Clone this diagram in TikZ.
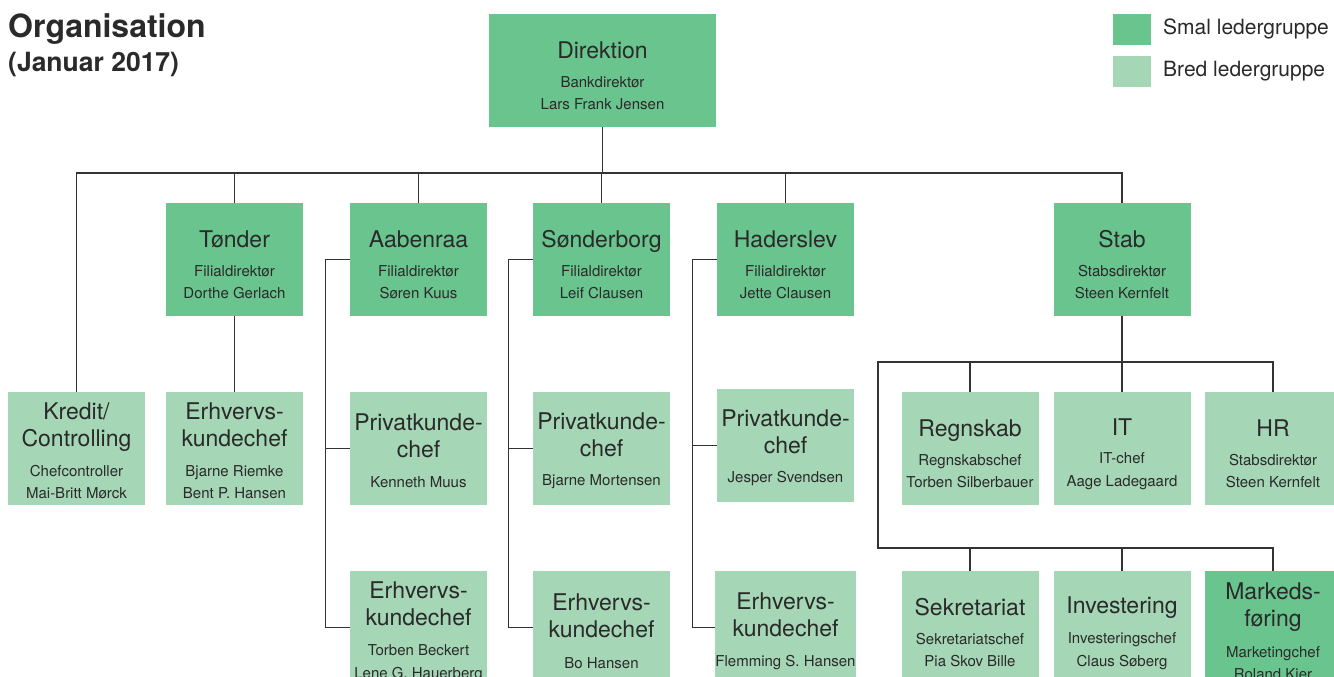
\documentclass[tikz,border=0pt]{standalone}
\usepackage{fontspec}
\setmainfont{TeX Gyre Heros}
\definecolor{smal}{HTML}{6AC48E}
\definecolor{bred}{HTML}{A5D6B6}
\definecolor{ink}{HTML}{2A2A2A}
\definecolor{wirec}{HTML}{333333}
% title line of a box, with an optional strut on top
\newcommand\hd[2][0pt]{{\fontsize{23}{27}\selectfont\rule{0pt}{#1}#2}}
\tikzset{
  orgbox/.style={minimum width=137, minimum height=113, inner sep=0pt, align=center,
    text=ink, font=\fontsize{15}{22.5}\selectfont},
  smalbox/.style={orgbox, fill=smal},
  bredbox/.style={orgbox, fill=bred},
  wire/.style={draw=wirec, line width=1.3pt}
}

\begin{document}
\begin{tikzpicture}[x=1pt,y=-1pt]
  \path[use as bounding box, fill=white] (0,0) rectangle (1334,677);

  % title and legend
  \node[anchor=base west, inner sep=0pt, text=ink, font=\bfseries\fontsize{32}{32}\selectfont] (title) at (8,38) {Organisation};
  \node[anchor=base west, inner sep=0pt, text=ink, font=\bfseries\fontsize{26.5}{26.5}\selectfont] (date) at (8,72) {(Januar 2017)};
  \node[fill=smal, minimum width=38, minimum height=31, inner sep=0pt] (legsmal) at (1132,29.5) {};
  \node[fill=bred, minimum width=38, minimum height=31, inner sep=0pt] (legbred) at (1132,71.5) {};
  \node[anchor=base west, inner sep=0pt, text=ink, font=\fontsize{21}{21}\selectfont] (legsmaltxt) at (1163,35) {Smal ledergruppe};
  \node[anchor=base west, inner sep=0pt, text=ink, font=\fontsize{21}{21}\selectfont] (legbredtxt) at (1163,77) {Bred ledergruppe};

  % top levels
  \node[smalbox, minimum width=227] (dir) at (602.5,70.5) {\hd[28pt]{Direktion}\\[6pt] Bankdirektør\\ Lars Frank Jensen};
  \node[smalbox] (tonder) at (234.5,259.5) {\hd[28pt]{Tønder}\\[6pt] Filialdirektør\\ Dorthe Gerlach};
  \node[smalbox] (aab) at (418.5,259.5) {\hd[28pt]{Aabenraa}\\[6pt] Filialdirektør\\ Søren Kuus};
  \node[smalbox] (sonder) at (601.5,259.5) {\hd[28pt]{Sønderborg}\\[6pt] Filialdirektør\\ Leif Clausen};
  \node[smalbox] (hader) at (785.5,259.5) {\hd[28pt]{Haderslev}\\[6pt] Filialdirektør\\ Jette Clausen};
  \node[smalbox] (stab) at (1122,259.5) {\hd[28pt]{Stab}\\[6pt] Stabsdirektør\\ Steen Kernfelt};

  % branches
  \node[bredbox] (kredit) at (76.5,448.5) {\hd[22pt]{Kredit/}\\[4.5pt] \hd{Controlling}\\[7pt] Chefcontroller\\ Mai-Britt Mørck};
  \node[bredbox] (erh1) at (234.5,448.5) {\hd[22pt]{Erhvervs-}\\[4.5pt] \hd{kundechef}\\[7pt] Bjarne Riemke\\ Bent P. Hansen};
  \node[bredbox] (priv2) at (418.5,448.5) {\hd[21pt]{Privatkunde-}\\[4.5pt] \hd{chef}\\[7pt] Kenneth Muus};
  \node[bredbox] (erh2) at (418.5,627.5) {\hd[25pt]{Erhvervs-}\\[4.5pt] \hd{kundechef}\\[8pt] Torben Beckert\\ Lene G. Hauerberg};
  \node[bredbox] (priv3) at (601.5,448.5) {\hd[21pt]{Privatkunde-}\\[4.5pt] \hd{chef}\\[7pt] Bjarne Mortensen};
  \node[bredbox] (erh3) at (601.5,627.5) {\hd[24pt]{Erhvervs-}\\[4.5pt] \hd{kundechef}\\[8pt] Bo Hansen};
  \node[bredbox] (priv4) at (785.5,445.5) {\hd[21pt]{Privatkunde-}\\[4.5pt] \hd{chef}\\[7pt] Jesper Svendsen};
  \node[bredbox] (erh4) at (785.5,627.5) {\hd[24pt]{Erhvervs-}\\[4.5pt] \hd{kundechef}\\[8pt] Flemming S. Hansen};

  % staff
  \node[bredbox] (regn) at (970,448.5) {\hd[28pt]{Regnskab}\\[6pt] Regnskabschef\\ Torben Silberbauer};
  \node[bredbox] (it) at (1122,448.5) {\hd[28pt]{IT}\\[6pt] IT-chef\\ Aage Ladegaard};
  \node[bredbox] (hr) at (1273,448.5) {\hd[28pt]{HR}\\[6pt] Stabsdirektør\\ Steen Kernfelt};
  \node[bredbox] (sekr) at (970,627.5) {\hd[28pt]{Sekretariat}\\[6pt] Sekretariatschef\\ Pia Skov Bille};
  \node[bredbox] (inv) at (1122,627.5) {\hd[28pt]{Investering}\\[8pt] Investeringschef\\ Claus Søberg};
  \node[smalbox] (mark) at (1273,627.5) {\hd[25pt]{Markeds-}\\[4.5pt] \hd{føring}\\[8pt] Marketingchef\\ Roland Kier};

  % lines
  \coordinate (bus) at (602,173);
  \coordinate (stabtop) at (878,362);
  \coordinate (stabbot) at (878,548);
  \draw[wire] (kredit.north) |- (stab.north |- bus) -- (stab.north);
  \foreach \n in {dir.south, tonder.north, aab.north, sonder.north, hader.north}
    \draw[wire] (\n) -- (\n |- bus);
  \draw[wire] (tonder.south) -- (erh1.north);
  \foreach \b/\p/\e in {aab/priv2/erh2, sonder/priv3/erh3, hader/priv4/erh4} {
    \draw[wire] (\b.west) -- ++(-24,0) |- (\e.west);
    \draw[wire] (\p.west) -- ++(-24,0);
  }
  \draw[wire] (stab.south) -- (it.north);
  \draw[wire] (hr.north) |- (stabtop) -- (stabbot) -| (mark.north);
  \draw[wire] (regn.north) -- (regn.north |- stabtop);
  \draw[wire] (sekr.north) -- (sekr.north |- stabbot);
  \draw[wire] (inv.north) -- (inv.north |- stabbot);
\end{tikzpicture}
\end{document}
